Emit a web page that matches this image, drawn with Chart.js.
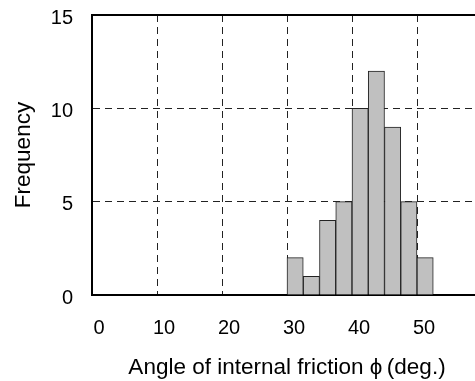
<!DOCTYPE html>
<html>
<head>
<meta charset="utf-8">
<script src="https://cdn.jsdelivr.net/npm/chart.js@4.4.1/dist/chart.umd.min.js"></script>
<style>
  html, body { margin: 0; padding: 0; background: #fff; overflow: hidden; }
  #wrap { width: 500px; height: 381px; }
</style>
</head>
<body>
<div id="wrap"><canvas id="histChart" width="500" height="381"></canvas></div>
<script>
// bin edges (deg.) and counts
const binStarts = [30, 32.5, 35, 37.5, 40, 42.5, 45, 47.5, 50];
const binWidth = 2.5;
const frequency = [2, 1, 4, 5, 10, 12, 9, 5, 2];
const xTicks = [0, 10, 20, 30, 40, 50, 60];
const yTicks = [0, 5, 10, 15];

const fontName = "'Liberation Sans', Arial, sans-serif";

const barData = binStarts.map((start, i) => ({ x: start + binWidth / 2, y: frequency[i] }));

// solid frame line along the top of the plot
const topBorder = {
  id: "topBorder",
  afterDraw(chart) {
    const { ctx, chartArea } = chart;
    ctx.save();
    ctx.strokeStyle = "#000";
    ctx.lineWidth = 2;
    ctx.beginPath();
    ctx.moveTo(chartArea.left - 1, chartArea.top);
    ctx.lineTo(chartArea.right + 5, chartArea.top);
    ctx.stroke();
    ctx.restore();
  },
};

const ctx = document.getElementById("histChart").getContext("2d");
new Chart(ctx, {
  type: "bar",
  data: {
    datasets: [
      {
        label: "Frequency",
        data: barData,
        backgroundColor: "#c0c0c0",
        borderColor: "#222",
        borderWidth: 1,
        barPercentage: 1,
        categoryPercentage: 1,
      },
    ],
  },
  options: {
    responsive: false,
    animation: false,
    layout: { padding: { left: 0, top: 15, right: 18, bottom: 0 } },
    plugins: {
      legend: { display: false },
      tooltip: { enabled: false },
    },
    scales: {
      x: {
        type: "linear",
        min: 0,
        max: 60,
        offset: false,
        afterFit: (scale) => {
          scale.height = 86;
          scale.paddingLeft = 0;
          scale.paddingRight = 0;
        },
        afterBuildTicks: (scale) => { scale.ticks = xTicks.map((v) => ({ value: v })); },
        border: { display: true, color: "#000", width: 2, dash: [7, 5] },
        grid: {
          offset: false,
          drawTicks: false,
          color: (c) => (c.tick && c.tick.value > 0 ? "#222" : "rgba(0,0,0,0)"),
          lineWidth: 1,
        },
        ticks: {
          color: "#000",
          padding: 21,
          labelOffset: 7,
          font: { family: fontName, size: 20 },
        },
        title: {
          display: true,
          text: "Angle of internal friction ϕ\u2009(deg.)",
          color: "#000",
          padding: { top: 0, bottom: 0 },
          font: { family: fontName, size: 22.5 },
        },
      },
      y: {
        min: 0,
        max: 15,
        afterFit: (scale) => {
          scale.width = 92;
          scale.paddingTop = 0;
          scale.paddingBottom = 0;
        },
        afterBuildTicks: (scale) => { scale.ticks = yTicks.map((v) => ({ value: v })); },
        border: { display: true, color: "#000", width: 2, dash: [7, 5] },
        grid: {
          drawTicks: false,
          color: (c) => (c.tick && c.tick.value > 0 && c.tick.value < 15 ? "#222" : "rgba(0,0,0,0)"),
          lineWidth: 1,
        },
        ticks: {
          color: "#000",
          padding: 19,
          labelOffset: 3,
          font: { family: fontName, size: 20 },
        },
        title: {
          display: true,
          text: "Frequency",
          color: "#000",
          padding: { top: 10, bottom: 0 },
          font: { family: fontName, size: 22.5 },
        },
      },
    },
  },
  plugins: [topBorder],
});
</script>
</body>
</html>
